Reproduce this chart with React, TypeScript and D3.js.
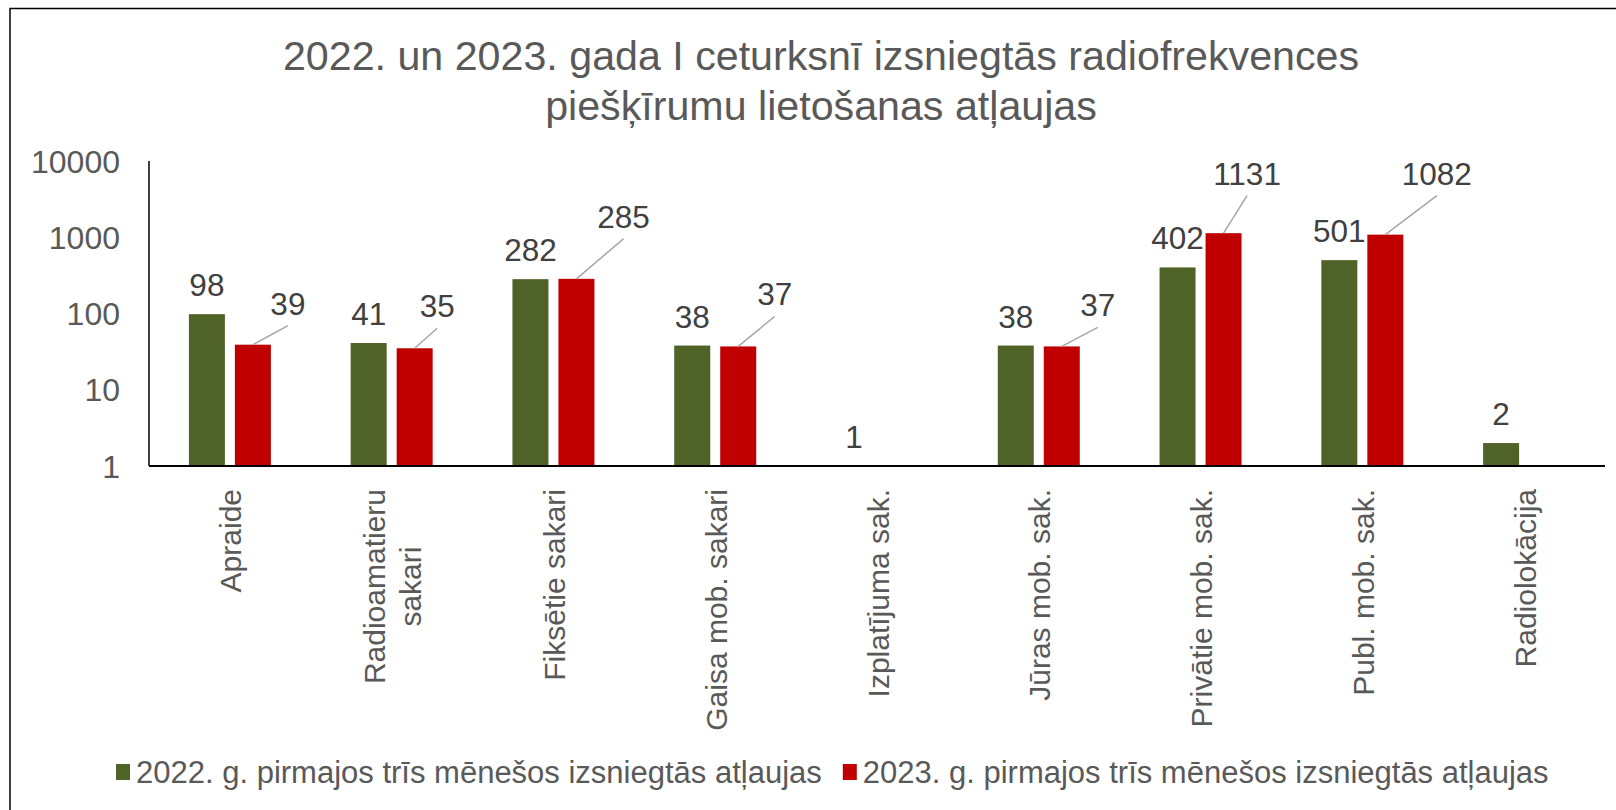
import React, { useEffect, useRef } from "react";
import * as d3 from "d3";

const categories: string[][] = [
  ["Apraide"],
  ["Radioamatieru", "sakari"],
  ["Fiksētie sakari"],
  ["Gaisa mob. sakari"],
  ["Izplatījuma sak."],
  ["Jūras mob. sak."],
  ["Privātie mob. sak."],
  ["Publ. mob. sak."],
  ["Radiolokācija"],
];
const series = [
  "2022. g. pirmajos trīs mēnešos izsniegtās atļaujas",
  "2023. g. pirmajos trīs mēnešos izsniegtās atļaujas",
];
const values2022: (number | null)[] = [98, 41, 282, 38, 1, 38, 402, 501, 2];
const values2023: (number | null)[] = [39, 35, 285, 37, null, 37, 1131, 1082, null];
const yTicks = [1, 10, 100, 1000, 10000];
const titleLines = [
  "2022. un 2023. gada I ceturksnī izsniegtās radiofrekvences",
  "piešķīrumu lietošanas atļaujas",
];
// manual nudges of the 2023 data labels (dx, dy from the bar top centre)
const redLabelNudges: ([number, number] | null)[] = [
  [35, -30], [22.5, -31], [47, -51], [36.5, -41], null, [36, -30], [23.5, -48.5], [51.5, -50], null,
];

const colors = ["#4F6228", "#C00000"];
const FONT = "'Liberation Sans', Arial, sans-serif";

export default function App() {
  const ref = useRef<SVGSVGElement>(null);
  useEffect(() => {
    const svg = d3.select(ref.current);
    svg.selectAll("*").remove();
    const left = 149, right = 1605, top = 161, bottom = 466;

    // border
    svg.append("rect").attr("x", 10).attr("y", 8.5).attr("width", 1700).attr("height", 900)
      .attr("fill", "#fff").attr("stroke", "#000").attr("stroke-width", 1.5);

    // title
    const title = svg.append("text").attr("font-family", FONT).attr("font-size", 41.2)
      .attr("fill", "#595959").attr("text-anchor", "middle");
    titleLines.forEach((t, i) => title.append("tspan").attr("x", 821).attr("y", 70 + i * 50).text(t));

    const keys = categories.map((c) => c.join(" "));
    const x0 = d3.scaleBand<string>().domain(keys).range([left, right]).padding(0);
    const x1 = d3.scaleBand<string>().domain(series).range([0, 82]).paddingInner(10 / 46).paddingOuter(0);
    const y = d3.scaleLog().domain([1, 10000]).range([bottom, top]);
    const groupOff = (x0.bandwidth() - 82) / 2;

    // y tick labels
    svg.append("g").selectAll("text").data(yTicks).join("text")
      .attr("x", 120).attr("y", (d) => y(d)).attr("dy", "0.36em")
      .attr("text-anchor", "end").attr("font-family", FONT).attr("font-size", 32)
      .attr("fill", "#595959").text((d) => String(d));

    // bars
    const allVals = [values2022, values2023];
    allVals.forEach((vals, si) => {
      const g = svg.append("g");
      vals.forEach((v, i) => {
        if (v == null || v <= 1) return;
        const bx = (x0(keys[i]) as number) + groupOff + (x1(series[si]) as number);
        g.append("rect").attr("x", bx).attr("y", y(v)).attr("width", x1.bandwidth())
          .attr("height", y(1) - y(v)).attr("fill", colors[si]);
      });
    });

    // axes lines
    svg.append("line").attr("x1", left).attr("x2", left).attr("y1", top).attr("y2", bottom)
      .attr("stroke", "#000").attr("stroke-width", 1.5);
    svg.append("line").attr("x1", left).attr("x2", right).attr("y1", bottom).attr("y2", bottom)
      .attr("stroke", "#000").attr("stroke-width", 2);

    // data labels 2022
    values2022.forEach((v, i) => {
      if (v == null) return;
      const cx = (x0(keys[i]) as number) + groupOff + (x1(series[0]) as number) + x1.bandwidth() / 2;
      svg.append("text").attr("x", cx).attr("y", y(v) - 18).attr("text-anchor", "middle")
        .attr("font-family", FONT).attr("font-size", 31.5).attr("fill", "#404040").text(String(v));
    });
    // data labels 2023 with leader lines
    values2023.forEach((v, i) => {
      if (v == null) return;
      const cx = (x0(keys[i]) as number) + groupOff + (x1(series[1]) as number) + x1.bandwidth() / 2;
      const nudge = redLabelNudges[i] || [0, -18];
      const lx = cx + nudge[0];
      const ly = y(v) + nudge[1];
      if (redLabelNudges[i]) {
        svg.append("line").attr("x1", cx).attr("y1", y(v)).attr("x2", lx).attr("y2", ly + 11)
          .attr("stroke", "#A6A6A6").attr("stroke-width", 1.5);
      }
      svg.append("text").attr("x", lx).attr("y", ly).attr("text-anchor", "middle")
        .attr("font-family", FONT).attr("font-size", 31.5).attr("fill", "#404040").text(String(v));
    });

    // category labels
    categories.forEach((lines, i) => {
      const cx = (x0(keys[i]) as number) + x0.bandwidth() / 2;
      const g = svg.append("g").attr("transform", `translate(${cx},489) rotate(-90)`);
      const texts = lines.map((t, li) =>
        g.append("text").attr("font-family", FONT).attr("font-size", 30).attr("fill", "#595959")
          .attr("y", 11.5 + (li - (lines.length - 1) / 2) * 36.5).text(t)
      );
      const maxW = d3.max(texts, (t) => (t.node() as SVGTextElement).getComputedTextLength()) || 0;
      texts.forEach((t) => t.attr("text-anchor", "middle").attr("x", -maxW / 2));
    });

    // legend
    let lx = 116;
    series.forEach((s, si) => {
      svg.append("rect").attr("x", lx).attr("y", 764).attr("width", 14).attr("height", 16).attr("fill", colors[si]);
      const t = svg.append("text").attr("x", lx + 20).attr("y", 783).attr("font-family", FONT)
        .attr("font-size", 31).attr("fill", "#595959").text(s);
      const w = (t.node() as SVGTextElement).getComputedTextLength();
      lx = lx + 20 + w + 21;
    });
  }, []);
  return (
    <div style={{ position: "fixed", left: 0, top: 0 }}>
      <svg ref={ref} width={1616} height={810} style={{ display: "block", background: "#fff" }} />
    </div>
  );
}
